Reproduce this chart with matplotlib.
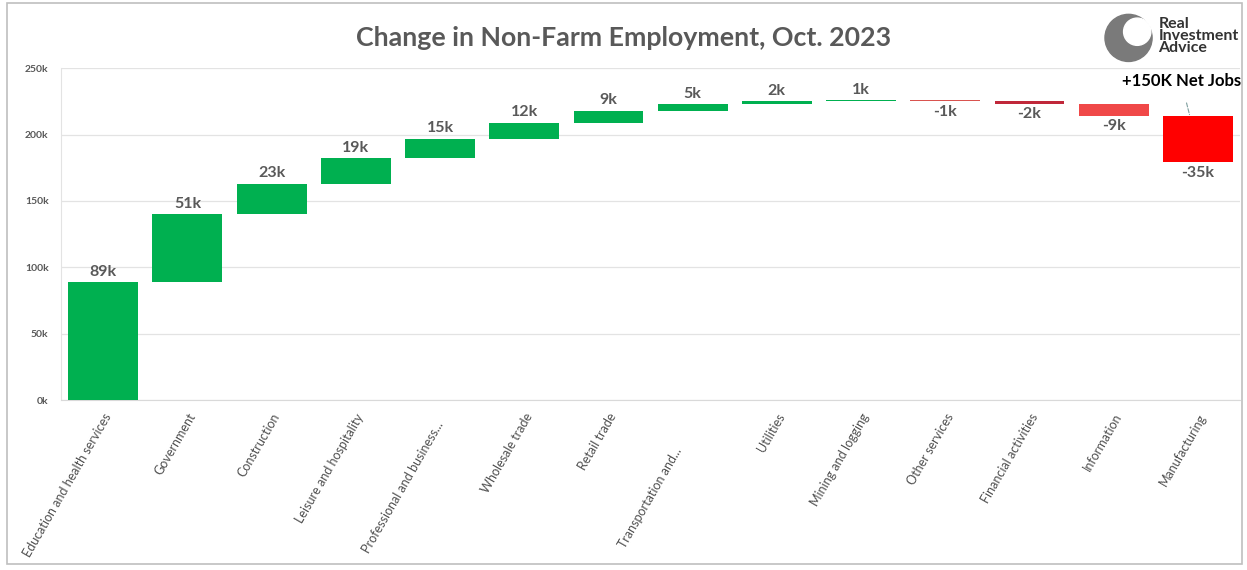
import numpy as np
import matplotlib.pyplot as plt
from matplotlib.patches import Rectangle, Circle

plt.rcParams['font.family'] = ['Lato', 'DejaVu Sans']

categories = ["Education and health services", "Government", "Construction",
              "Leisure and hospitality", "Professional and business...",
              "Wholesale trade", "Retail trade", "Transportation and...",
              "Utilities", "Mining and logging", "Other services",
              "Financial activities", "Information", "Manufacturing"]
changes = [89, 51, 23, 19, 15, 12, 9, 5, 2, 1, -1, -2, -9, -35]  # thousands
labels = ["89k", "51k", "23k", "19k", "15k", "12k", "9k", "5k", "2k", "1k",
          "-1k", "-2k", "-9k", "-35k"]
yticks = [0, 50, 100, 150, 200, 250]
ytick_labels = ["0k", "50k", "100k", "150k", "200k", "250k"]

GREEN = "#00B050"
neg_colors = {10: "#D9534F", 11: "#C0283A", 12: "#F04848", 13: "#FF0000"}
TXT = "#595959"

vals = np.array(changes, dtype=float) * 1000
ends = np.cumsum(vals)
starts = ends - vals
x = np.arange(len(categories))

fig = plt.figure(figsize=(12.47, 5.70), dpi=100)
ax = fig.add_axes([0.049, 0.298, 0.9454, 0.5825])

colors = [GREEN if v > 0 else neg_colors.get(i, "#FF0000") for i, v in enumerate(vals)]
bottoms = np.minimum(starts, ends)
heights = np.abs(vals)
ax.bar(x, heights, bottom=bottoms, width=0.83, color=colors, zorder=3)

for i in range(len(vals)):
    if vals[i] > 0:
        ax.text(x[i], ends[i] + 2500, labels[i], ha="center", va="bottom",
                fontsize=11.5, fontweight="bold", color=TXT, zorder=4)
    else:
        ax.text(x[i], ends[i] - 2500, labels[i], ha="center", va="top",
                fontsize=11.5, fontweight="bold", color=TXT, zorder=4)

# Excel pushes the truncated labels a bit further down
tick_text = list(categories)
tick_text[4] = tick_text[4] + "   "
tick_text[7] = tick_text[7] + "            "

ax.set_xlim(-0.5, len(categories) - 0.5)
ax.set_ylim(0, 250000)
ax.set_yticks([t * 1000 for t in yticks])
ax.set_yticklabels(ytick_labels, fontsize=7.5, fontweight="bold", color=TXT)
ax.set_xticks(x)
ax.set_xticklabels(tick_text, rotation=60, ha="right", rotation_mode="anchor",
                   fontsize=9, color="#505050")
ax.tick_params(axis="both", length=0)
ax.tick_params(axis="x", pad=8)
ax.tick_params(axis="y", pad=9)
ax.grid(axis="y", color="#E3E3E3", linewidth=0.9, zorder=0)
for s in ["top", "right"]:
    ax.spines[s].set_visible(False)
ax.spines["left"].set_color("#E3E3E3")
ax.spines["bottom"].set_color("#D9D9D9")

# net jobs callout
last = len(vals) - 1
ax.annotate("+150K Net Jobs", xy=(x[last] - 0.1, starts[last] + 1000),
            xytext=(x[last] - 0.2, 240000), ha="center", va="center",
            fontsize=12, fontweight="bold", color="black",
            arrowprops=dict(arrowstyle="-", linestyle="--", color="#7F9F9F",
                            linewidth=0.8, shrinkA=8, shrinkB=0))

fig.text(0.5, 0.933, "Change in Non-Farm Employment, Oct. 2023", ha="center",
         va="center", fontsize=19.3, fontweight="bold", color=TXT)

# logo
fig.text(0.929, 0.937, "Real\nInvestment\nAdvice", ha="left", va="center",
         fontsize=11.5, fontweight="bold", color="#333333", linespacing=0.8)
logo_ax = fig.add_axes([0.885, 0.89, 0.04, 0.087])
logo_ax.set_xlim(-1, 1)
logo_ax.set_ylim(-1, 1)
logo_ax.set_aspect("equal")
logo_ax.axis("off")
logo_ax.add_patch(Circle((0, 0), 0.95, color="#7A7A7A"))
logo_ax.add_patch(Circle((0.35, 0.25), 0.55, color="white"))

fig.patches.append(Rectangle((0.006, 0.01), 0.99, 0.985, transform=fig.transFigure,
                             fill=False, edgecolor="#BFBFBF", linewidth=1.2))

fig.savefig("out.png", dpi=100)
